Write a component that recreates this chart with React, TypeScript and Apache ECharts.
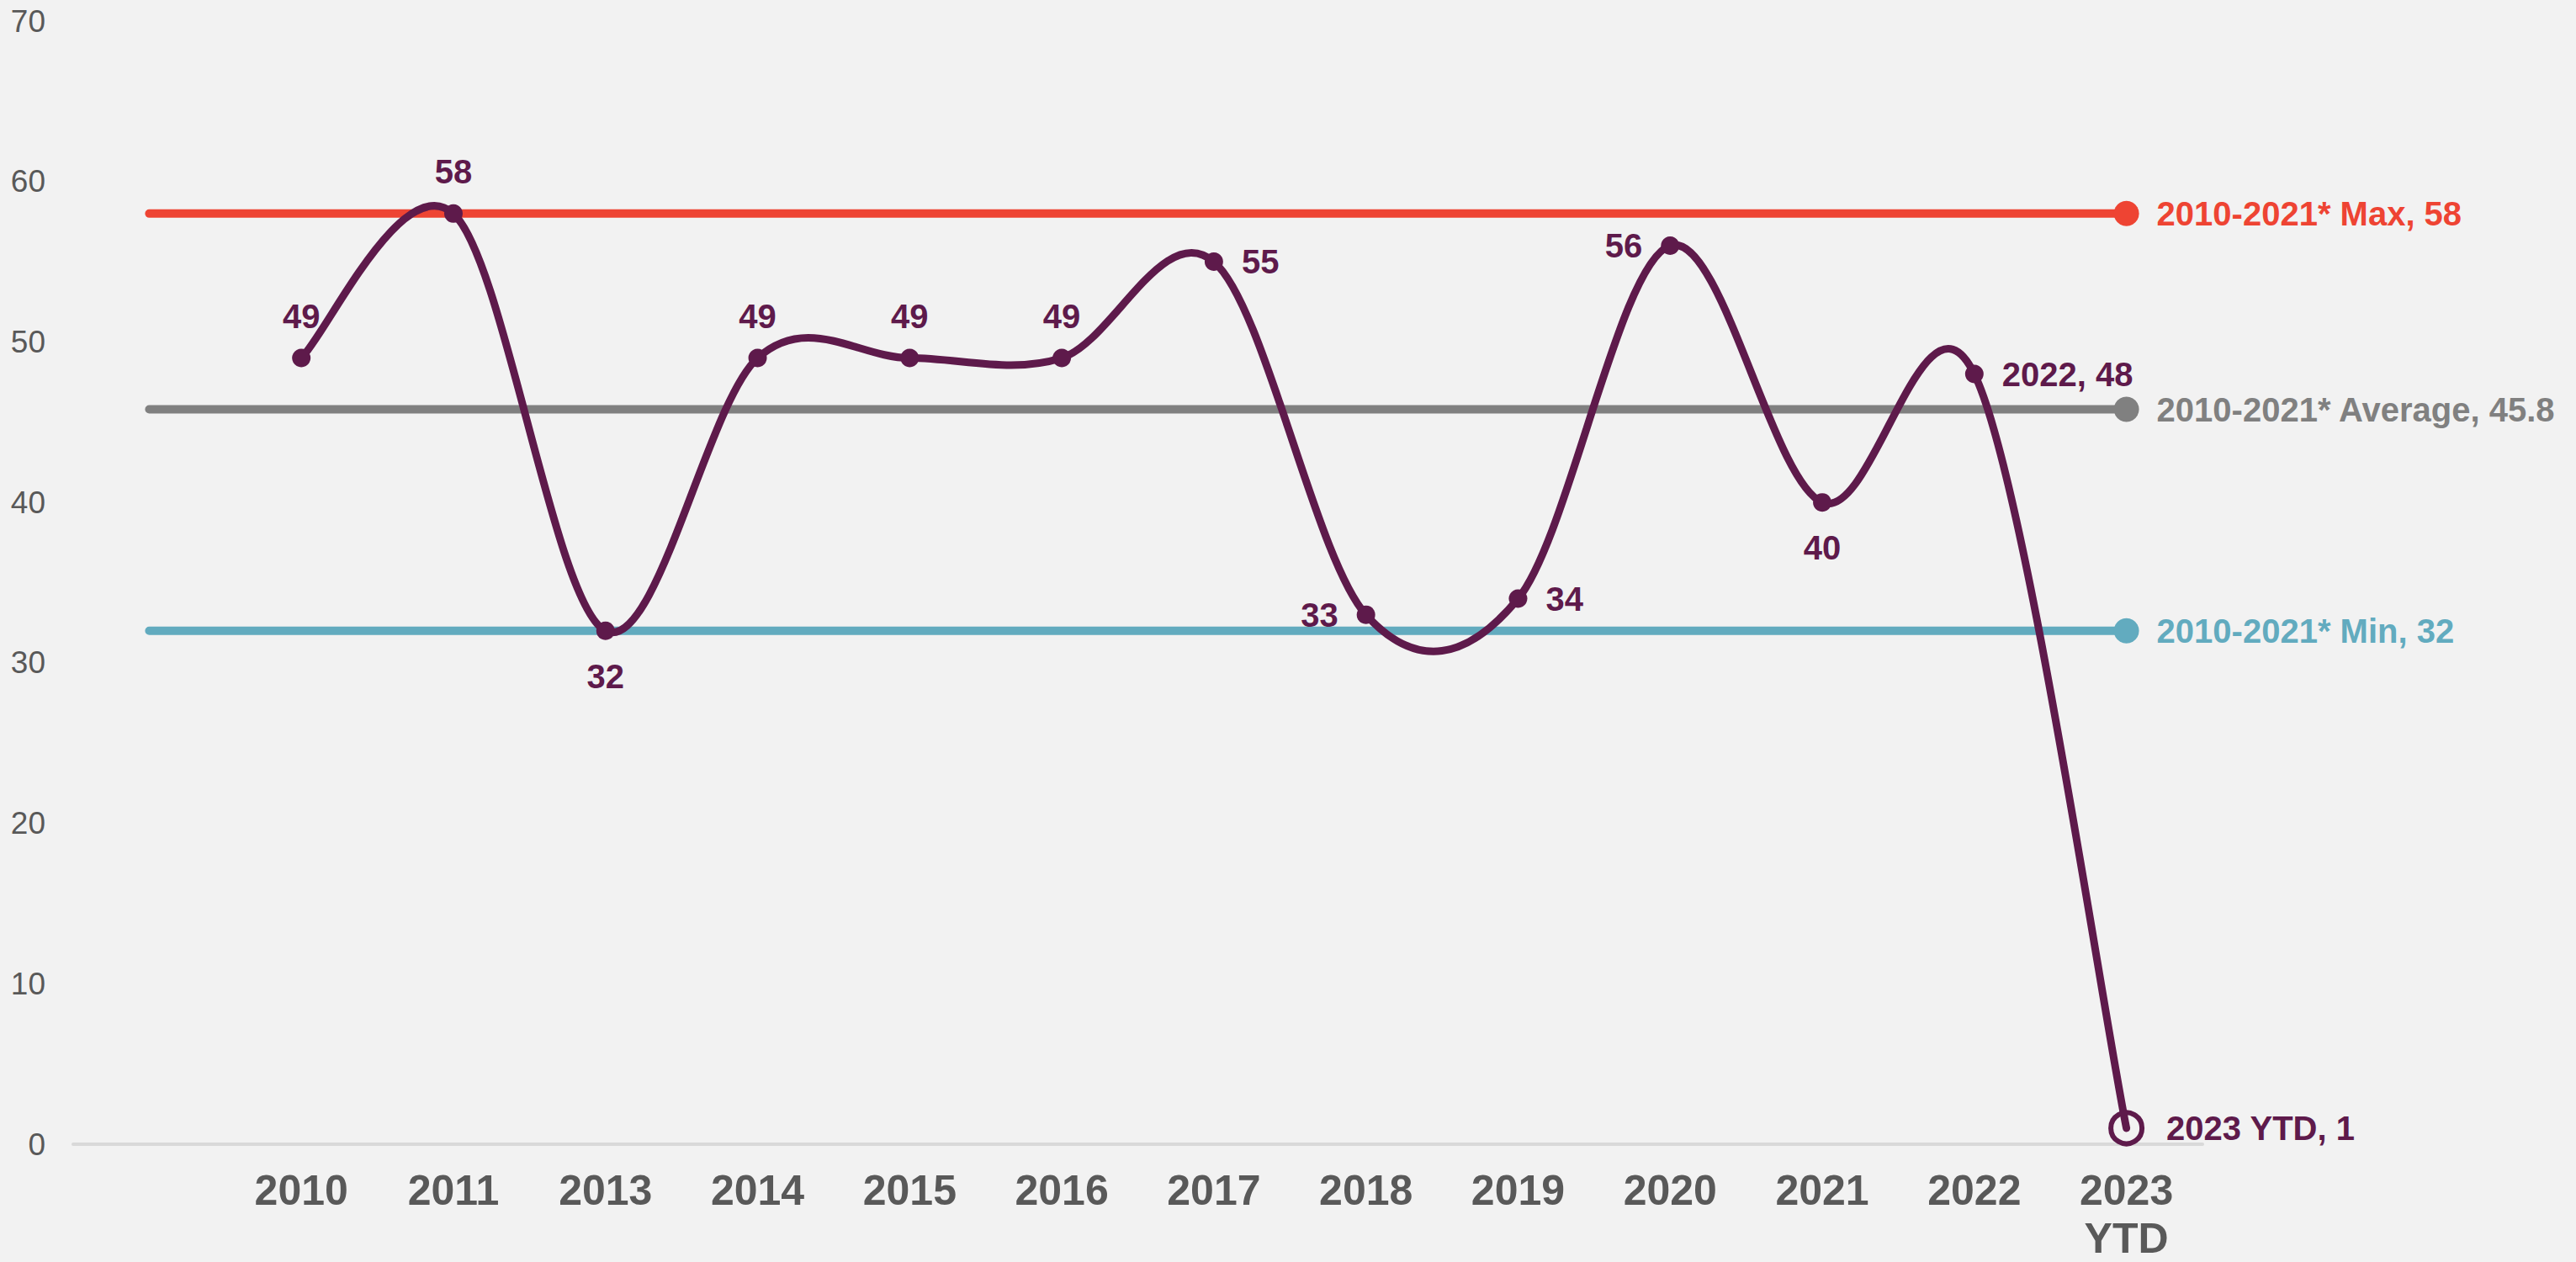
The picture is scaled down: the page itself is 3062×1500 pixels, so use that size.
import React, { useEffect, useRef } from 'react';
import * as echarts from 'echarts';

// ---- data ----
const categories = ['', '2010', '2011', '2013', '2014', '2015', '2016', '2017', '2018', '2019', '2020', '2021', '2022', '2023 YTD'];
const values: (number | null)[] = [null, 49, 58, 32, 49, 49, 49, 55, 33, 34, 56, 40, 48, 1];
const labelPositions: (string | null)[] = [null, 'top', 'top', 'bottom', 'top', 'top', 'top', 'right', 'left', 'right', 'left', 'bottom', 'right', 'right'];
const labelWithCategory: boolean[] = [false, false, false, false, false, false, false, false, false, false, false, false, true, true];

const refNames = ['2010-2021* Max', '2010-2021* Average', '2010-2021* Min'];
const refValues = [58, 45.8, 32];
const refColors = ['#EE4433', '#808080', '#62ABBF'];

const yMin = 0;
const yMax = 70;
const yInterval = 10;

// ---- styles ----
const FONT = "'Liberation Sans', Arial, sans-serif";
const PURPLE = '#5E1A4B';
const AXIS_TEXT = '#595959';
const BG = '#F2F2F2';

export default function App() {
  const ref = useRef<HTMLDivElement>(null);

  useEffect(() => {
    if (!ref.current) return;
    const chart = echarts.init(ref.current, undefined, { renderer: 'svg' });
    const last = categories.length - 1;

    const refSeries = refValues.map((v, k) => ({
      type: 'line',
      name: refNames[k],
      silent: true,
      z: 2,
      symbol: 'circle',
      symbolSize: 30,
      showAllSymbol: true,
      lineStyle: { color: refColors[k], width: 10, cap: 'round' },
      itemStyle: { color: refColors[k] },
      data: categories.map((_, i) =>
        i === last
          ? {
              value: v,
              symbol: 'circle',
              label: {
                show: true,
                position: 'right',
                distance: 21,
                color: refColors[k],
                fontFamily: FONT,
                fontWeight: 'bold',
                fontSize: 40,
                formatter: () => `${refNames[k]}, ${v}`,
              },
            }
          : { value: v, symbol: 'none' }
      ),
    }));

    const mainData = values.map((v, i) => {
      if (v === null) return null;
      const pos = labelPositions[i] as string;
      const isLast = i === last;
      const dist = pos === 'top' ? 19 : pos === 'bottom' ? 23 : isLast ? 26 : 22;
      return {
        value: v,
        symbol: 'circle',
        symbolSize: isLast ? 37 : 22,
        itemStyle: isLast
          ? { color: 'rgba(0,0,0,0)', borderColor: PURPLE, borderWidth: 6 }
          : { color: PURPLE },
        label: {
          show: true,
          position: pos,
          distance: dist,
          color: PURPLE,
          fontFamily: FONT,
          fontWeight: 'bold',
          fontSize: 40,
          formatter: () => (labelWithCategory[i] ? `${categories[i]}, ${v}` : `${v}`),
        },
      };
    });

    const valid = (k: number) => k >= 0 && k < values.length && values[k] !== null;

    // Smoothed (Catmull-Rom style) curve, drawn segment by segment through the axis scales
    const curveSeries = {
      type: 'custom',
      name: 'Curve',
      silent: true,
      z: 4,
      data: values.map((v, i) => [i, v]).filter((d) => d[1] !== null),
      renderItem: (_params: any, api: any) => {
        const i = api.value(0) as number;
        if (!valid(i + 1)) return { type: 'group', children: [] };
        const pt = (k: number) => api.coord([k, values[k]]);
        const p1 = pt(i);
        const p2 = pt(i + 1);
        const p0 = valid(i - 1) ? pt(i - 1) : p1;
        const p3 = valid(i + 2) ? pt(i + 2) : p2;
        return {
          type: 'bezierCurve',
          shape: {
            x1: p1[0],
            y1: p1[1],
            x2: p2[0],
            y2: p2[1],
            cpx1: p1[0] + (p2[0] - p0[0]) / 6,
            cpy1: p1[1] + (p2[1] - p0[1]) / 6,
            cpx2: p2[0] - (p3[0] - p1[0]) / 6,
            cpy2: p2[1] - (p3[1] - p1[1]) / 6,
          },
          style: { stroke: PURPLE, lineWidth: 9, fill: 'none', lineCap: 'round' },
        };
      },
    };

    chart.setOption({
      animation: false,
      backgroundColor: BG,
      grid: { left: 87, right: 444, top: 25, bottom: 134 },
      xAxis: {
        type: 'category',
        data: categories,
        boundaryGap: true,
        axisLine: { show: true, lineStyle: { color: '#D9D9D9', width: 4 } },
        axisTick: { show: false },
        splitLine: { show: false },
        axisLabel: {
          interval: 0,
          margin: 26,
          color: AXIS_TEXT,
          fontFamily: FONT,
          fontWeight: 'bold',
          fontSize: 50,
          lineHeight: 57,
          formatter: (s: string) => s.replace(' YTD', '\nYTD'),
        },
      },
      yAxis: {
        type: 'value',
        min: yMin,
        max: yMax,
        interval: yInterval,
        axisLine: { show: false },
        axisTick: { show: false },
        splitLine: { show: false },
        axisLabel: {
          margin: 33,
          color: AXIS_TEXT,
          fontFamily: FONT,
          fontSize: 37,
        },
      },
      series: [
        ...refSeries,
        curveSeries,
        {
          type: 'line',
          name: 'Value',
          silent: true,
          z: 5,
          showAllSymbol: true,
          lineStyle: { opacity: 0, width: 0 },
          itemStyle: { color: PURPLE },
          data: mainData,
        },
      ],
    });

    return () => chart.dispose();
  }, []);

  return (
    <div
      ref={ref}
      style={{ position: 'fixed', left: 0, top: 0, width: 3062, height: 1500, background: BG }}
    />
  );
}
